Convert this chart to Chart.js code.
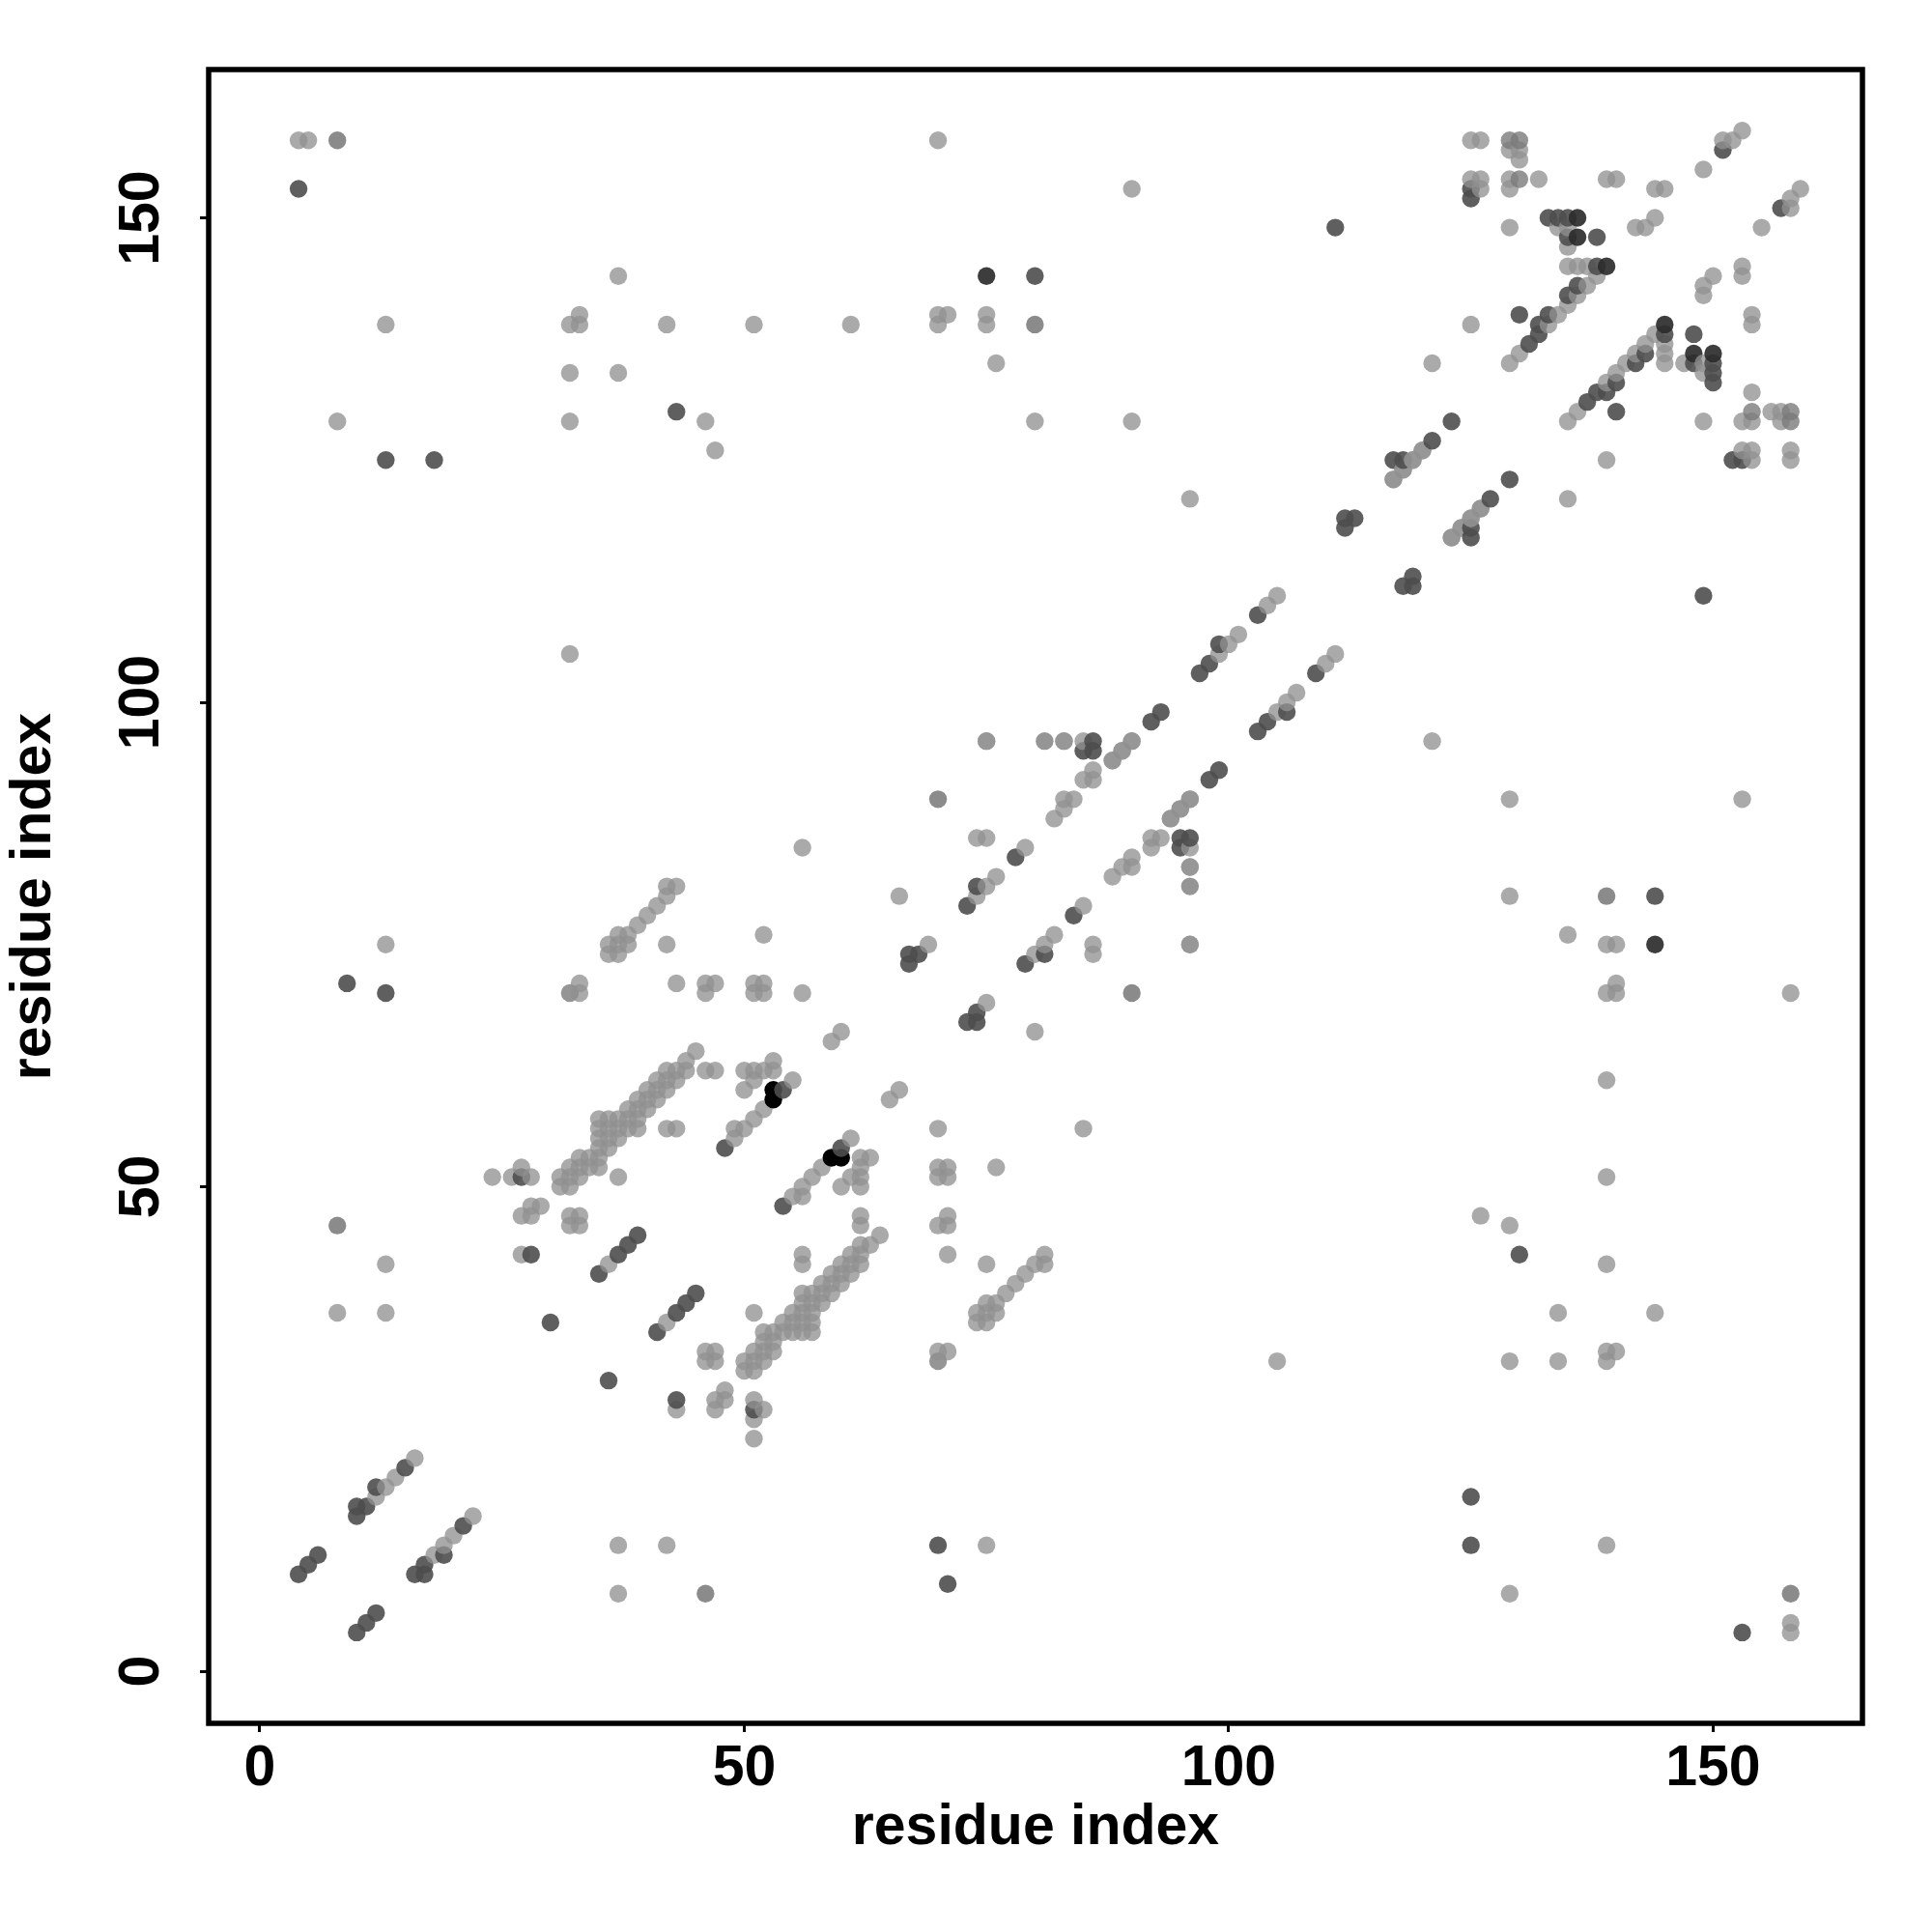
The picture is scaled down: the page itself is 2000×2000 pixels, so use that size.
<!DOCTYPE html>
<html lang="en">
<head>
  <meta charset="UTF-8" />
  <title>Residue contact map</title>
  <script src="https://cdn.jsdelivr.net/npm/chart.js"></script>
  <style>
    body { margin: 0; background: #fff; }
    canvas { display: block; }
  </style>
</head>
<body>
<canvas id="contactMap" width="2000" height="2000"></canvas>
<script>
  // contacts as [i, j] with i < j, the map shows each one on both sides of the diagonal
  const paleContacts = [
    [4,158],[5,158],[13,139],[8,129],[13,75],[13,42],[8,37],[13,37],
    [12,18],[13,19],[14,20],[16,22],
    [24,51],[26,51],[27,52],[28,51],[27,47],[28,47],[28,48],[29,48],[27,43],
    [31,50],[31,51],[32,50],[32,51],[32,52],[33,51],[33,52],[33,53],[34,52],[34,53],
    [35,52],[35,53],[35,54],[35,55],[35,56],[35,57],[36,54],[36,55],[36,56],[36,57],
    [37,51],[37,55],[37,56],[37,57],[38,56],[38,57],[38,58],[39,56],[39,57],[39,58],[39,59],
    [40,58],[40,59],[40,60],[41,59],[41,60],[41,61],[42,60],[42,61],[42,62],
    [43,61],[43,62],[44,62],[44,63],[45,64],[42,56],[43,56],[46,62],[47,62],
    [32,46],[33,46],[32,47],[33,47],[36,42],
    [33,70],[33,71],[43,71],[46,70],[46,71],[47,71],[51,70],[52,70],[51,71],[52,71],[56,70],[59,65],[60,66],
    [49,55],[49,56],[50,56],[51,57],[52,58],[55,61],[50,60],[50,62],[51,61],[51,62],[52,62],[53,62],[53,63],
    [36,74],[36,75],[37,74],[37,75],[37,76],[38,75],[38,76],[39,77],[40,78],[41,79],[42,80],[42,81],[43,81],[42,75],
    [32,105],[32,139],[33,139],[33,140],[32,134],[37,134],[37,144],[32,129],[42,139],[46,129],[47,126],
    [51,139],[61,139],[70,139],[70,140],[71,140],[75,139],[75,140],[76,135],[80,129],[70,158],[90,153],[90,129],
    [56,85],[52,76],[66,80],[69,75],[74,80],[75,81],[76,82],[79,85],[74,86],[75,86],[75,96],[83,96],[85,96],
    [85,92],[86,92],[86,93],[82,88],[83,89],[83,90],[84,90],[88,94],[89,95],[90,96],
    [96,121],[105,111],[104,110],[101,107],[100,106],[99,105],
    [125,158],[126,158],[129,157],[130,157],[130,156],[125,154],[126,154],[126,153],[129,154],[129,153],[132,154],
    [129,149],[134,149],[135,149],[135,147],[135,145],[136,145],[137,145],[138,144],[137,143],[136,142],[135,141],
    [134,140],[133,139],[130,136],[129,135],[125,139],[121,135],
    [149,155],[151,158],[152,158],[153,159],[142,149],[143,149],[144,150],[144,153],[145,153],[139,154],[140,154],
    [117,123],[118,124],[119,125],[120,126],[123,117],[124,118],[125,119],[126,120],
    [96,75],[96,83],[96,90],[95,89],[94,88]
  ];
  const softContacts = [[81,96],[129,158],[130,158],[130,154],[32,70]];
  const midContacts = [[8,46],[8,158],[70,90],[80,139]];
  const darkContacts = [
    [4,10],[5,11],[6,12],[10,16],[10,17],[11,17],[12,19],[15,21],[4,153],[13,125],[18,125],[9,71],[13,70],
    [28,43],[30,36],[35,41],[37,43],[38,44],[39,45],[27,51],[48,54],[54,60],[43,130],
    [67,73],[67,74],[68,74],[73,79],[74,81],[78,84],[85,95],[86,95],[86,96],[92,98],[93,99],
    [97,103],[98,104],[99,106],[103,109],[112,118],[112,119],[113,119],
    [117,125],[118,125],[121,127],[123,129],[125,152],[125,153],[111,149],[130,140],
    [133,150],[134,150],[135,150],[135,148],[138,148],[136,143],[135,142],[133,140],[132,139],[132,138],[131,137],[138,145],
    [151,157],[80,144]
  ];
  const darkestContacts = [[75,144],[136,150],[136,148],[139,145]];
  const blackContacts = [[53,59],[53,60]];

  const xTickStep = 50;
  const axisTitle = "residue index";

  const shades = [
    [paleContacts, "rgba(144,144,144,0.77)"],
    [softContacts, "rgba(122,122,122,0.8)"],
    [midContacts, "rgba(110,110,110,0.8)"],
    [darkContacts, "rgba(78,78,78,0.9)"],
    [darkestContacts, "rgba(45,45,45,0.92)"],
    [blackContacts, "rgba(0,0,0,1)"]
  ];

  // both triangles, in x then y order so overlaps stack like the original plot
  const points = [];
  shades.forEach(([list, color]) => {
    list.forEach(([i, j]) => {
      points.push({ x: i, y: j, color });
      points.push({ x: j, y: i, color });
    });
  });
  points.sort((a, b) => a.x - b.x || a.y - b.y);

  const labelFont = { family: "'Liberation Sans', Arial, sans-serif", size: 59, weight: "bold" };

  const frame = {
    id: "frame",
    afterDraw(chart) {
      const { ctx, chartArea: a } = chart;
      ctx.save();
      ctx.strokeStyle = "#000";
      ctx.lineWidth = 5.5;
      ctx.strokeRect(a.left, a.top, a.right - a.left, a.bottom - a.top);
      ctx.restore();
    }
  };

  function tickGrid() {
    return { drawOnChartArea: false, drawTicks: true, tickLength: 9, tickWidth: 3, tickColor: "#000" };
  }

  new Chart(document.getElementById("contactMap"), {
    type: "scatter",
    data: {
      datasets: [{
        data: points,
        pointRadius: 9.2,
        pointHoverRadius: 9.2,
        pointBorderWidth: 0,
        pointBackgroundColor: points.map(p => p.color)
      }]
    },
    options: {
      responsive: false,
      animation: false,
      layout: { padding: { top: 72, right: 72, left: 0, bottom: 0 } },
      plugins: { legend: { display: false }, tooltip: { enabled: false } },
      scales: {
        x: {
          min: -5.28,
          max: 165.41,
          afterFit: s => { s.height = 216; },
          border: { display: false },
          grid: tickGrid(),
          ticks: { stepSize: xTickStep, includeBounds: false, color: "#000", font: labelFont, padding: 3, maxRotation: 0 },
          title: { display: true, text: axisTitle, color: "#000", font: labelFont, padding: { top: 0, bottom: 72 } }
        },
        y: {
          min: -5.38,
          max: 165.31,
          afterFit: s => { s.width = 216; },
          border: { display: false },
          grid: tickGrid(),
          ticks: { stepSize: xTickStep, includeBounds: false, color: "#000", font: labelFont, padding: 10, minRotation: 90, maxRotation: 90, crossAlign: "center" },
          title: { display: true, text: axisTitle, color: "#000", font: labelFont, padding: { top: 0, bottom: 44 } }
        }
      }
    },
    plugins: [frame]
  });
</script>
</body>
</html>
